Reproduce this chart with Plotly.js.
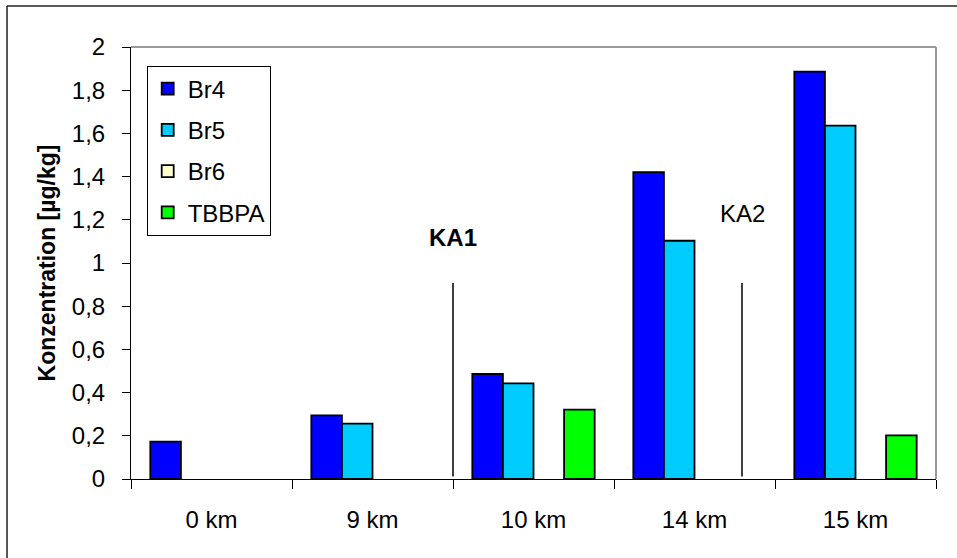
<!DOCTYPE html>
<html>
<head>
<meta charset="utf-8">
<script src="https://cdn.plot.ly/plotly-3.0.1.min.js"></script>
<style>html,body{margin:0;padding:0;background:#fff;}#chart{width:957px;height:558px;}</style>
</head>
<body>
<div id="chart"></div>
<script>
const categories = ["0 km", "9 km", "10 km", "14 km", "15 km"];
const seriesNames = ["Br4", "Br5", "Br6", "TBBPA"];
const br4 = [0.173, 0.295, 0.486, 1.421, 1.886];
const br5 = [null, 0.256, 0.443, 1.103, 1.636];
const br6 = [null, null, null, null, null];
const tbbpa = [null, null, 0.321, null, 0.202];
const colors = ["#0000FF", "#00CCFF", "#FFFFCC", "#00FF00"];
const markerLabels = ["KA1", "KA2"];
const markerPos = [1.5, 3.295];
const markerTop = 0.907;
const labelY = [1.12, 1.23];

const FONT = "Liberation Sans, Arial, sans-serif";
const FS = 24;
const values = [br4, br5, br6, tbbpa];
const traces = values.map((v, i) => ({
  type: "bar",
  name: seriesNames[i],
  x: categories,
  y: v,
  legendgroup: "g" + i,
  marker: {color: colors[i], line: {color: "#000", width: 1.8}},
  hoverinfo: "skip"
}));

const shapes = markerPos.map(p => ({
  type: "line", xref: "x", yref: "y", x0: p, x1: p, y0: 0.012, y1: markerTop,
  line: {color: "#000", width: 1.5}
}));
// plot frame (top and right, grey)
shapes.push({type: "line", xref: "paper", yref: "paper", x0: 0, x1: 1, y0: 1, y1: 1, line: {color: "#999", width: 2}});
shapes.push({type: "line", xref: "paper", yref: "paper", x0: 1, x1: 1, y0: 0, y1: 1, line: {color: "#999", width: 2}});
// outer chart border (left and top)
shapes.push({type: "line", xref: "paper", yref: "paper", x0: -0.154, x1: -0.154, y0: -0.2, y1: 1.0949, line: {color: "#222", width: 1.5}});
shapes.push({type: "line", xref: "paper", yref: "paper", x0: -0.154, x1: 1.05, y0: 1.0949, y1: 1.0949, line: {color: "#222", width: 1.5}});

const annotations = markerLabels.map((t, i) => ({
  xref: "x", yref: "y", x: markerPos[i], y: labelY[i],
  text: i === 0 ? "<b>" + t + "</b>" : t, showarrow: false,
  font: {family: FONT, size: FS, color: "#000"}
}));

const layout = {
  width: 957, height: 558,
  margin: {l: 131, r: 21, t: 47, b: 79},
  paper_bgcolor: "#fff", plot_bgcolor: "#fff",
  separators: ", ",
  font: {family: FONT, size: FS, color: "#000"},
  barmode: "group", bargap: 0.24, bargroupgap: 0,
  showlegend: true,
  legend: {
    x: 0.0195, y: 0.957, xanchor: "left", yanchor: "top",
    bgcolor: "#fff", bordercolor: "#000", borderwidth: 1,
    font: {family: FONT, size: FS, color: "#000"},
    tracegroupgap: 7, itemwidth: 30
  },
  xaxis: {
    type: "category", tickson: "boundaries", ticks: "outside", ticklen: 9, tickcolor: "#000",
    showline: true, linecolor: "#000", linewidth: 1, showgrid: false, zeroline: false,
    tickfont: {family: FONT, size: FS}, ticklabelstandoff: 19, fixedrange: true
  },
  yaxis: {
    range: [0, 2], dtick: 0.2, tick0: 0, ticks: "outside", ticklen: 8, tickcolor: "#000",
    showline: true, linecolor: "#000", linewidth: 1, showgrid: false, zeroline: false,
    tickfont: {family: FONT, size: FS}, ticklabelstandoff: 12,
    title: {text: "<b>Konzentration [µg/kg]</b>", font: {family: FONT, size: 23}, standoff: 9},
    fixedrange: true
  },
  shapes: shapes,
  annotations: annotations
};

Plotly.newPlot("chart", traces, layout, {displayModeBar: false, staticPlot: true});
</script>
</body>
</html>
